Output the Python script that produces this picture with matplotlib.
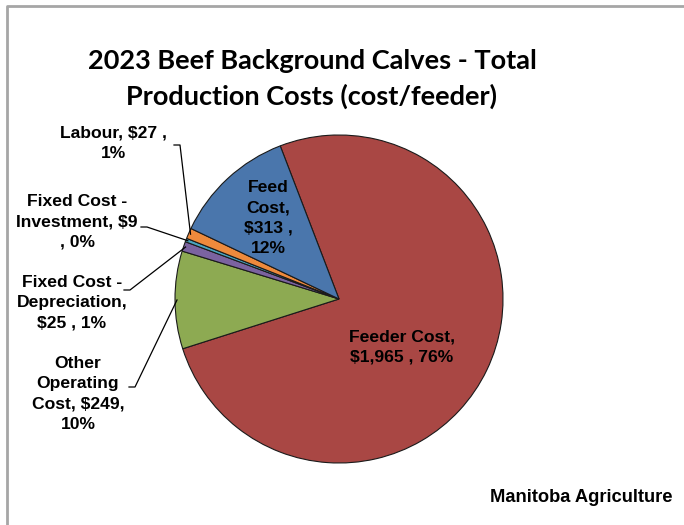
import numpy as np
import matplotlib.pyplot as plt
from matplotlib.lines import Line2D

# data, clockwise from the Feeder/Feed boundary
categories = ["Feeder Cost", "Other Operating Cost", "Fixed Cost - Depreciation",
              "Fixed Cost - Investment", "Labour", "Feed Cost"]
costs = [1965, 249, 25, 9, 27, 313]
pct_labels = ["76%", "10%", "1%", "0%", "1%", "12%"]
colors = ["#A94744", "#8DAA52", "#7B63A0", "#49A5C0", "#EE8A3C", "#4A76AC"]

W, H = 684, 525
fig = plt.figure(figsize=(W / 100, H / 100), dpi=100)
ax = fig.add_axes([0, 0, 1, 1])

def Y(py):
    return H - py

cx, cy, r = 339, 299, 164
start = 111
wedges, _ = ax.pie(costs, colors=colors, startangle=start, counterclock=False,
                   center=(cx, Y(cy)), radius=r, frame=True,
                   wedgeprops=dict(edgecolor="#1a1a1a", linewidth=0.8))
ax.set_xlim(0, W)
ax.set_ylim(0, H)
ax.set_aspect("equal")
ax.axis("off")

lab_font = dict(family="Liberation Sans", weight="bold", fontsize=12.6, color="black")
ls = 1.45

# inside labels
ax.text(268, Y(218), "Feed\nCost,\n$313 ,\n12%", ha="center", va="center",
        linespacing=ls, **lab_font)
ax.text(402, Y(347), "Feeder Cost,\n$1,965 , 76%", ha="center", va="center",
        linespacing=ls, **lab_font)

# outside labels with leader lines: text, text centre, leader row, leader start x
outside = {
    "Labour": ("Labour, $27 ,\n1%", (113, 143), 145, 174),
    "Fixed Cost - Investment": ("Fixed Cost -\nInvestment, $9\n, 0%", (77, 222), 227, 141),
    "Fixed Cost - Depreciation": ("Fixed Cost -\nDepreciation,\n$25 , 1%", (72, 303), 290, 124),
    "Other Operating Cost": ("Other\nOperating\nCost, $249,\n10%", (78, 394), 387, 129),
}
for w, name in zip(wedges, categories):
    if name not in outside:
        continue
    txt, (tx, ty), ly, lx = outside[name]
    ax.text(tx, Y(ty), txt, ha="center", va="center", linespacing=ls, **lab_font)
    mid = np.deg2rad((w.theta1 + w.theta2) / 2)
    ex = cx + (r - 2) * np.cos(mid)
    ey = Y(cy) + (r - 2) * np.sin(mid)
    ax.add_line(Line2D([lx, lx + 6, ex], [Y(ly), Y(ly), ey], color="black", lw=0.9))

ax.text(312, Y(79), "2023 Beef Background Calves - Total\nProduction Costs (cost/feeder)",
        ha="center", va="center", family="Lato", weight="bold", fontsize=19.5,
        linespacing=1.5)
ax.text(672, Y(497), "Manitoba Agriculture", ha="right", va="center",
        family="Liberation Sans", weight="bold", fontsize=13.2)

# chart frame (left and top edges visible)
ax.add_line(Line2D([7, 7, W], [0, Y(6), Y(6)], color="#A6A6A6", lw=2))

fig.savefig("out.png", dpi=100)
